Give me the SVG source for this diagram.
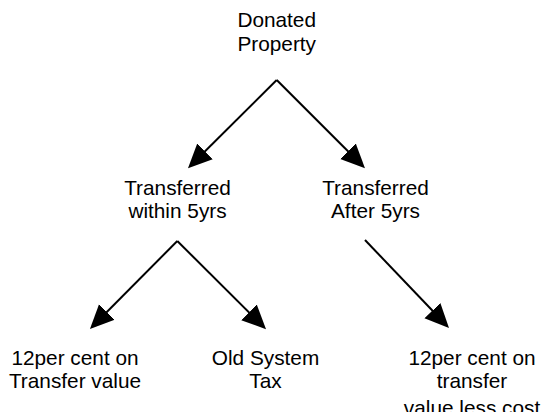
<svg xmlns="http://www.w3.org/2000/svg" width="547" height="419" viewBox="0 0 547 419">
<style>
  text { font-family: "Liberation Sans", Arial, sans-serif; font-size: 20.8px; fill: #000; text-anchor: middle; }
  .edge { stroke: #000; stroke-width: 2; fill: none; marker-end: url(#arrow); }
</style>
<defs>
  <marker id="arrow" markerUnits="userSpaceOnUse" viewBox="0 0 24 24" refX="12" refY="12" markerWidth="24" markerHeight="24" orient="auto">
    <path d="M0,1 L24,12 L0,23 z" fill="#000"/>
  </marker>
  <clipPath id="clipBottom"><rect x="0" y="0" width="547" height="412"/></clipPath>
</defs>
<rect width="547" height="419" fill="#fff"/>
<g id="connectors">
  <line class="edge" x1="276.7" y1="80" x2="196.5" y2="159.8"/>
  <line class="edge" x1="276.7" y1="80" x2="356.5" y2="159.8"/>
  <line class="edge" x1="177.3" y1="241" x2="98.4" y2="320.5"/>
  <line class="edge" x1="177.3" y1="241" x2="257.5" y2="320.8"/>
  <line class="edge" x1="365" y1="240" x2="440.7" y2="319.3"/>
</g>
<g id="donated">
  <text x="276.7" y="27.3">Donated</text>
  <text x="276.7" y="50.7">Property</text>
</g>
<g id="within">
  <text x="177.5" y="195">Transferred</text>
  <text x="177.5" y="218.3">within 5yrs</text>
</g>
<g id="after">
  <text x="375.5" y="195">Transferred</text>
  <text x="375.5" y="218.3">After 5yrs</text>
</g>
<g id="transfer-value">
  <text x="75" y="365">12per cent on</text>
  <text x="75" y="387.7">Transfer value</text>
</g>
<g id="old-system">
  <text x="265.5" y="365">Old System</text>
  <text x="265.5" y="387.7">Tax</text>
</g>
<g id="less-cost" clip-path="url(#clipBottom)">
  <text x="472" y="365">12per cent on</text>
  <text x="472" y="387.7">transfer</text>
  <text x="472" y="415">value less cost</text>
</g>
</svg>
